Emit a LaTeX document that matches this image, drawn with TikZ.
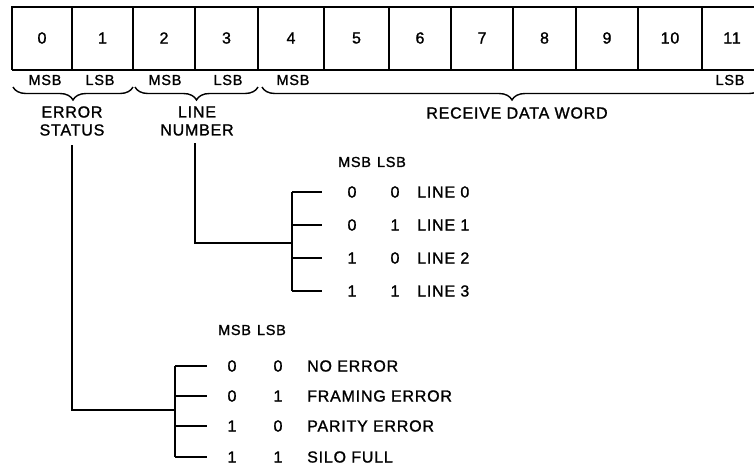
\documentclass[tikz,border=0pt]{standalone}
\usepackage{fontspec}
\setmainfont{Liberation Sans}[LetterSpace=8]
\newfontfamily\lett{Liberation Sans}[LetterSpace=5, FakeBold=1.3]
\usetikzlibrary{decorations.pathreplacing}
\begin{document}
\begin{tikzpicture}[x=1pt,y=-1pt,
  lbl/.style={font=\lett\fontsize{16}{18}\selectfont, inner sep=0pt},
  small/.style={font=\lett\fontsize{14.5}{16}\selectfont, inner sep=0pt},
  wire/.style={line width=1.4pt},
  regline/.style={line width=1.5pt},
  brc/.style={decorate, decoration={brace, mirror, amplitude=13pt}, line width=1.4pt}]
\useasboundingbox (0,0) rectangle (754,467);
\clip (0,0) rectangle (754,467);
% register
\draw[regline] (760,7) -- (12,7) -- (12,70);
\draw[line width=2pt] (12,70) -- (760,70);
\foreach \x in {72,133,195,258,324,389,451,513,576,638,702}
  \draw[regline] (\x,7) -- (\x,70);
\foreach \n/\x in {0/42,1/102.5,2/164,3/226.5,4/291,5/356.5,6/420,7/482,8/544.5,9/607,10/670,11/732}
  \node[lbl] (b\n) at (\x,38) {\n};
% msb / lsb marks
\node[small] (m1) at (45,80) {MSB};
\node[small] (s1) at (100,80) {LSB};
\node[small] (m2) at (165,80) {MSB};
\node[small] (s2) at (228,80) {LSB};
\node[small] (m3) at (293,80) {MSB};
\node[small] (s3) at (730,80) {LSB};
% braces
\draw[brc] (13,87) -- (133,87);
\draw[brc] (135,87) -- (258,87);
\draw[brc] (262,87) -- (762,87);
\node[lbl, align=center] (es) at (72,121) {ERROR\\STATUS};
\node[lbl, align=center] (ln) at (197,121) {LINE\\NUMBER};
\node[lbl] (rdw) at (517,113) {RECEIVE DATA WORD};
% line number table
\node[small] (lh) at (372,162) {MSB\hspace{6pt}LSB};
\coordinate (lnfoot) at (195,143);
\coordinate (lnj) at (292,243);
\foreach \i/\m/\l/\y in {0/0/0/192,1/0/1/225,2/1/0/258,3/1/1/291}{
  \coordinate (lb\i) at (292,\y);
  \node[lbl] (lm\i) at (352,\y) {\m};
  \node[lbl] (ll\i) at (395,\y) {\l};
  \node[lbl, anchor=west] (lt\i) at (417,\y) {LINE \i};
  \draw[wire] (lb\i) -- (322,\y);
}
\draw[wire] (lb0) -- (lb3);
\draw[wire] (lnfoot) |- (lnj);
% error status table
\node[small] (eh) at (252,330) {MSB\hspace{6pt}LSB};
\coordinate (esfoot) at (72,145);
\coordinate (esj) at (175,410);
\foreach \i/\m/\l/\y/\t in {0/0/0/366/NO ERROR,1/0/1/396/FRAMING ERROR,2/1/0/426/PARITY ERROR,3/1/1/457/SILO FULL}{
  \coordinate (eb\i) at (175,\y);
  \node[lbl] (em\i) at (232,\y) {\m};
  \node[lbl] (el\i) at (278,\y) {\l};
  \node[lbl, anchor=west] (et\i) at (307,\y) {\t};
  \draw[wire] (eb\i) -- (207,\y);
}
\draw[wire] (eb0) -- (eb3);
\draw[wire] (esfoot) |- (esj);
\end{tikzpicture}
\end{document}
